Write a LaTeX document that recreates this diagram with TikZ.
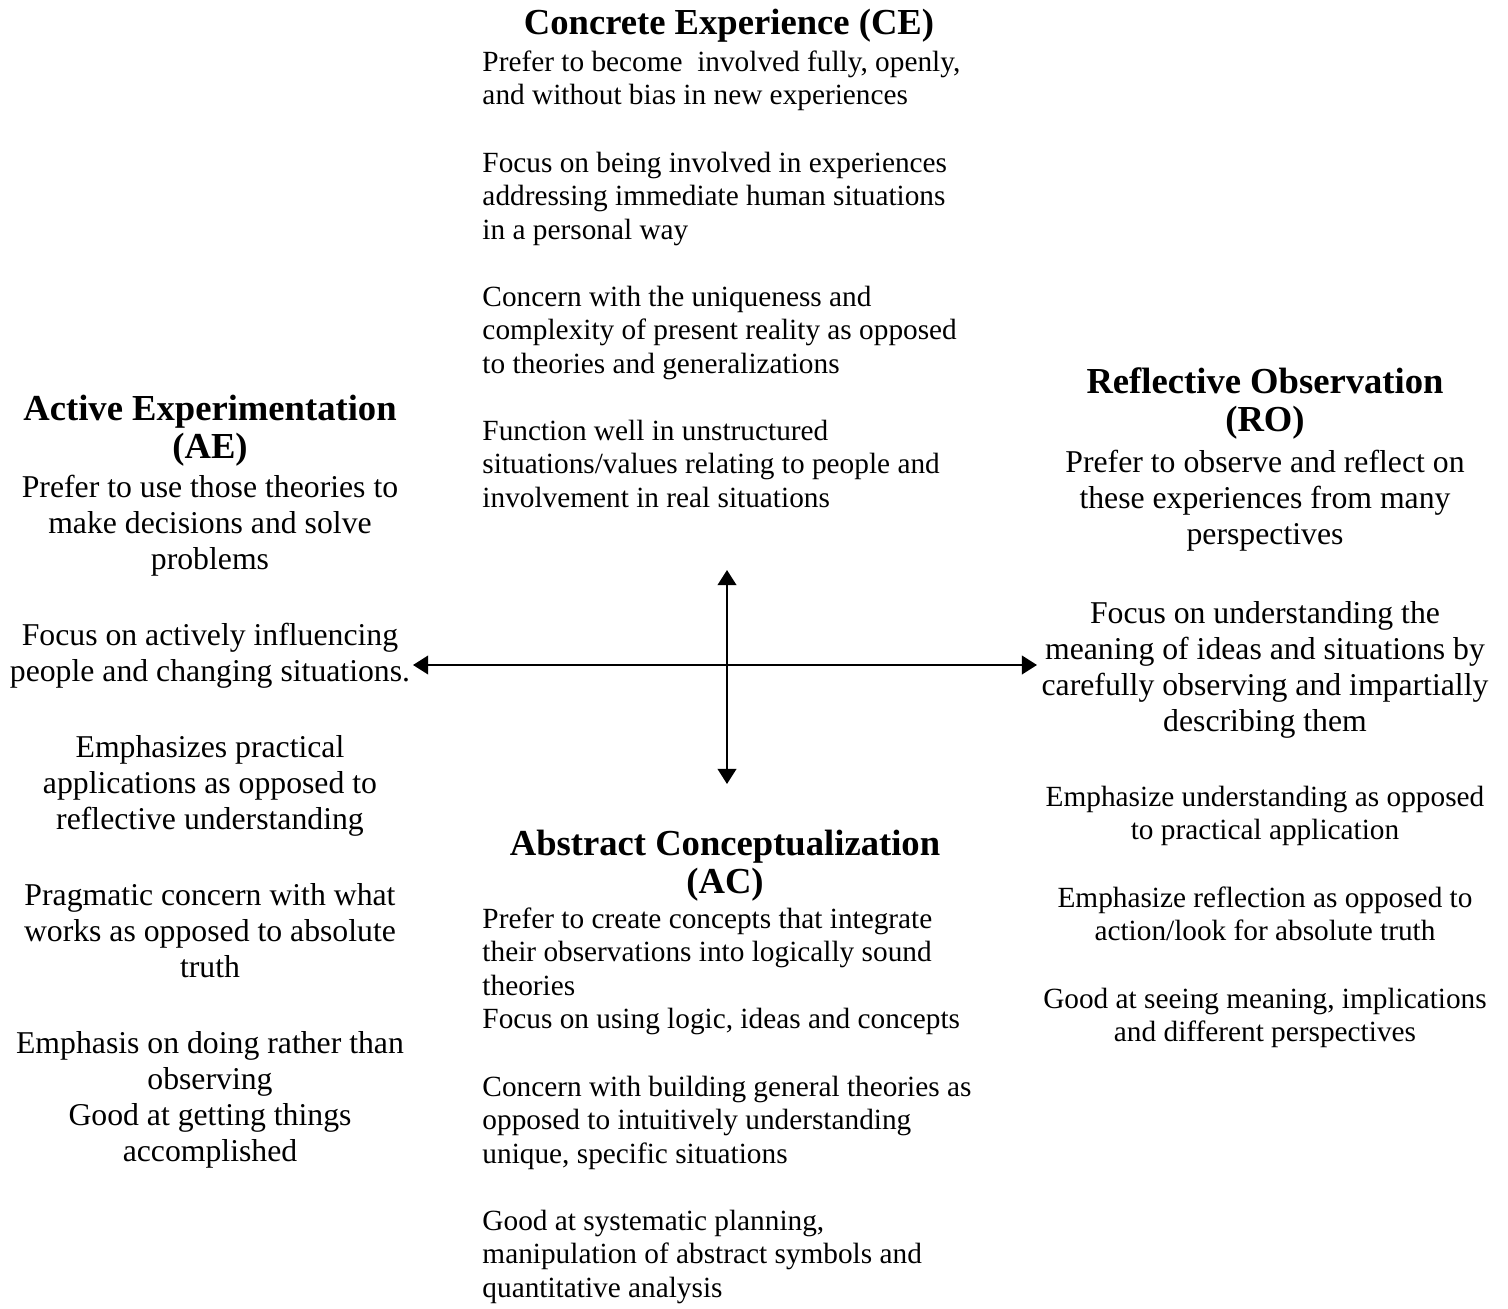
\documentclass[tikz,border=0pt]{standalone}
\usepackage{fontspec}
\setmainfont{Liberation Serif}
\usetikzlibrary{arrows.meta}

\tikzset{
	headtxt/.style={font=\fontsize{15}{15.6}\selectfont\bfseries, align=center,
		inner sep=0pt, anchor=north},
	bigtxt/.style={font=\fontsize{13}{14.75}\selectfont, align=center,
		inner sep=0pt, anchor=north},
	smalltxt/.style={font=\fontsize{12}{13.72}\selectfont, align=center,
		inner sep=0pt, anchor=north},
	lefttxt/.style={smalltxt, align=left, anchor=north west},
	axis/.style={line width=0.95pt,
		{Triangle[length=6.2pt,width=7.6pt]}-{Triangle[length=6.2pt,width=7.6pt]}},
}

\begin{document}
\begin{tikzpicture}[x=0.4096pt, y=-0.4096pt]
	\useasboundingbox (0,0) rectangle (1508,1309);

	% ejes del ciclo
	\coordinate (ceEnd) at (727,570);
	\coordinate (acEnd) at (727,784);
	\coordinate (aeEnd) at (413,665);
	\coordinate (roEnd) at (1037,665);
	\draw[axis] (aeEnd) -- (roEnd);
	\draw[axis] (ceEnd) -- (acEnd);

	% experiencia concreta (arriba)
	\node[headtxt] (ceHead) at (729,7.4) {\strut Concrete Experience (CE)};
	\node[lefttxt] (ce1) at (482,47.5) {\strut Prefer to become~ involved fully, openly,\\
		and without bias in new experiences};
	\node[lefttxt] (ce2) at (482,148.5) {\strut Focus on being involved in experiences\\
		addressing immediate human situations\\in a personal way};
	\node[lefttxt] (ce3) at (482,282.5) {\strut Concern with the uniqueness and\\
		complexity of present reality as opposed\\to theories and generalizations};
	\node[lefttxt] (ce4) at (482,416.5) {\strut Function well in unstructured\\
		situations/values relating to people and\\involvement in real situations};

	% experimentacion activa (izquierda)
	\node[headtxt] (aeHead) at (210,393.4) {\strut Active Experimentation\\(AE)};
	\node[bigtxt] (ae1) at (210,471.8) {\strut Prefer to use those theories to\\
		make decisions and solve\\problems};
	\node[bigtxt] (ae2) at (210,619.8) {\strut Focus on actively influencing\\
		people and changing situations.};
	\node[bigtxt] (ae3) at (210,731.8) {\strut Emphasizes practical\\
		applications as opposed to\\reflective understanding};
	\node[bigtxt] (ae4) at (210,879.8) {\strut Pragmatic concern with what\\
		works as opposed to absolute\\truth};
	\node[bigtxt] (ae5) at (210,1027.8) {\strut Emphasis on doing rather than\\
		observing\\Good at getting things\\accomplished};

	% observacion reflexiva (derecha)
	\node[headtxt] (roHead) at (1265,366.4) {\strut Reflective Observation\\(RO)};
	\node[bigtxt] (ro1) at (1265,446.8) {\strut Prefer to observe and reflect on\\
		these experiences from many\\perspectives};
	\node[bigtxt] (ro2) at (1265,597.8) {\strut Focus on understanding the\\
		meaning of ideas and situations by\\carefully observing and impartially\\
		describing them};
	\node[smalltxt] (ro3) at (1265,782.5) {\strut Emphasize understanding as opposed\\
		to practical application};
	\node[smalltxt] (ro4) at (1265,883.5) {\strut Emphasize reflection as opposed to\\
		action/look for absolute truth};
	\node[smalltxt] (ro5) at (1265,984.5) {\strut Good at seeing meaning, implications\\
		and different perspectives};

	% conceptualizacion abstracta (abajo)
	\node[headtxt] (acHead) at (725,828.4) {\strut Abstract Conceptualization\\(AC)};
	\node[lefttxt] (ac1) at (482,904.5) {\strut Prefer to create concepts that integrate\\
		their observations into logically sound\\theories\\
		Focus on using logic, ideas and concepts};
	\node[lefttxt] (ac2) at (482,1072.5) {\strut Concern with building general theories as\\
		opposed to intuitively understanding\\unique, specific situations};
	\node[lefttxt] (ac3) at (482,1206.5) {\strut Good at systematic planning,\\
		manipulation of abstract symbols and\\quantitative analysis};
\end{tikzpicture}
\end{document}
